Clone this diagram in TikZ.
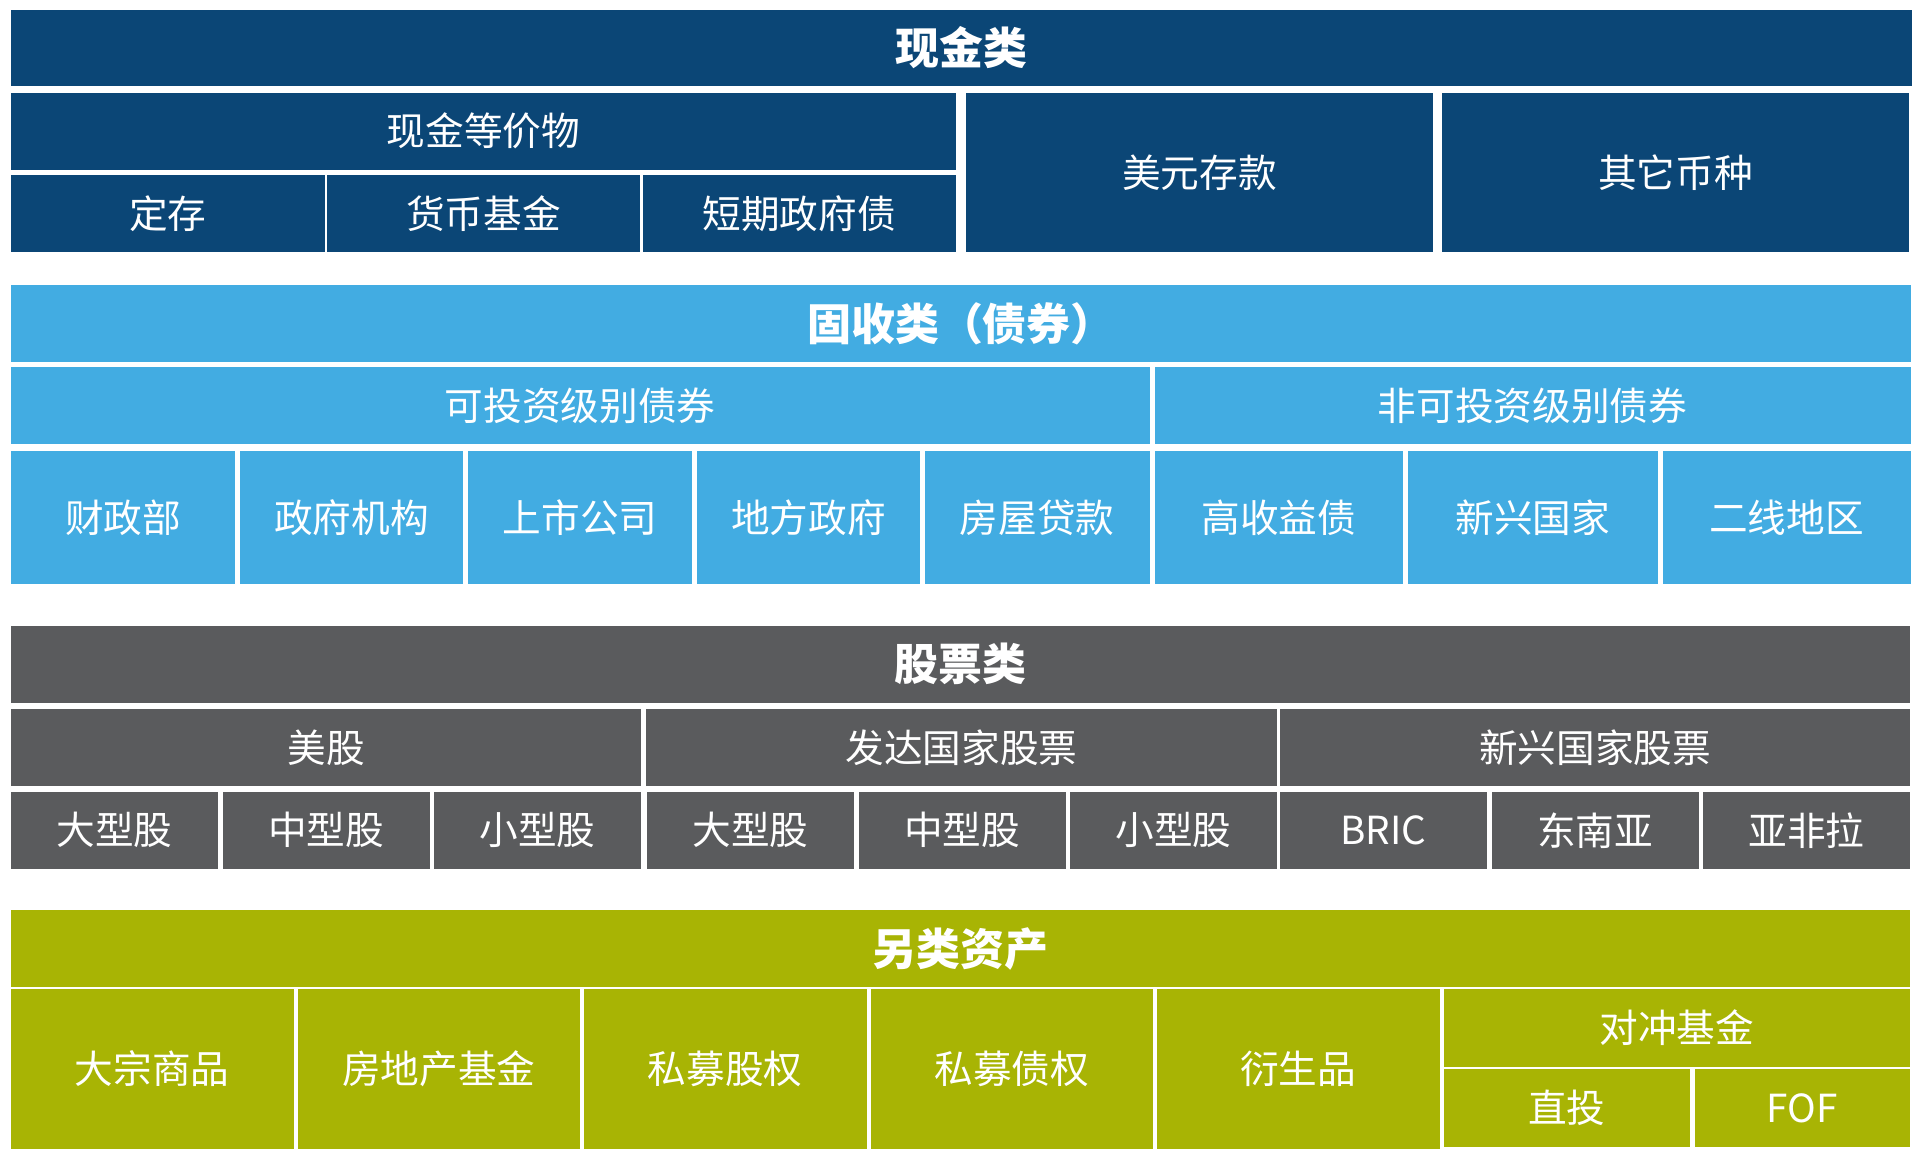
\documentclass[tikz,border=0pt]{standalone}
\usepackage{fontspec}
\setmainfont{Noto Sans CJK SC}
\usetikzlibrary{positioning}
\definecolor{cashblue}{HTML}{0B4676}
\definecolor{bondblue}{HTML}{42ACE2}
\definecolor{stockgrey}{HTML}{5A5B5D}
\definecolor{altolive}{HTML}{A8B404}

\begin{document}
\begin{tikzpicture}[node distance=0.045cm]
	% Define style
	\tikzset{
		cell/.style={rectangle, inner sep=0pt, outer sep=0pt, text=white, text centered, minimum height=0.77cm, font=\fontsize{11}{13}\selectfont},
		corner/.style={cell, anchor=north west},
		head/.style={corner, font=\bfseries\fontsize{12.5}{15}\selectfont},
		cash/.style={fill=cashblue},
		bond/.style={fill=bondblue},
		stock/.style={fill=stockgrey},
		alt/.style={fill=altolive}
	}
	\useasboundingbox (0,0) rectangle (19.2,-11.6);
	
	% Cash
	\node (cash) [head, cash, minimum width=19.01cm, minimum height=0.765cm] at (0.11,-0.095) {现金类};
	\node (cashequiv) [corner, cash, minimum width=9.45cm, minimum height=0.765cm] at (0.11,-0.93) {现金等价物};
	\node (deposit) [corner, cash, minimum width=3.135cm] at (0.11,-1.75) {定存};
	\node (mmf) [cell, cash, minimum width=3.13cm, right=0.025cm of deposit] {货币基金};
	\node (tbill) [cell, cash, minimum width=3.13cm, right=0.025cm of mmf] {短期政府债};
	\node (usd) [corner, cash, minimum width=4.67cm, minimum height=1.59cm] at (9.66,-0.93) {美元存款};
	\node (otherccy) [cell, cash, minimum width=4.67cm, minimum height=1.59cm, right=0.09cm of usd] {其它币种};
	
	% Bonds
	\node (bond) [head, bond, minimum width=19cm] at (0.11,-2.85) {固收类（债券）};
	\node (invgrade) [corner, bond, minimum width=11.385cm] at (0.11,-3.67) {可投资级别债券};
	\node (noninv) [cell, bond, minimum width=7.56cm, right=0.05cm of invgrade] {非可投资级别债券};
	\node (treasury) [corner, bond, minimum width=2.24cm, minimum height=1.33cm] at (0.11,-4.51) {财政部};
	\node (agency) [cell, bond, minimum width=2.23cm, minimum height=1.33cm, right=0.05cm of treasury] {政府机构};
	\node (corporate) [cell, bond, minimum width=2.24cm, minimum height=1.33cm, right=0.05cm of agency] {上市公司};
	\node (municipal) [cell, bond, minimum width=2.23cm, minimum height=1.33cm, right=0.05cm of corporate] {地方政府};
	\node (mortgage) [cell, bond, minimum width=2.245cm, minimum height=1.33cm, right=0.05cm of municipal] {房屋贷款};
	\node (highyield) [cell, bond, minimum width=2.485cm, minimum height=1.33cm, right=0.05cm of mortgage] {高收益债};
	\node (emerging) [cell, bond, minimum width=2.495cm, minimum height=1.33cm, right=0.05cm of highyield] {新兴国家};
	\node (frontier) [cell, bond, minimum width=2.48cm, minimum height=1.33cm, right=0.05cm of emerging] {二线地区};
	
	% Stocks
	\node (equity) [head, stock, minimum width=18.99cm, minimum height=0.765cm] at (0.11,-6.26) {股票类};
	\node (us) [corner, stock, minimum width=6.3cm] at (0.11,-7.09) {美股};
	\node (developed) [cell, stock, minimum width=6.31cm, right=0.05cm of us] {发达国家股票};
	\node (emergingeq) [cell, stock, minimum width=6.3cm, right=0.03cm of developed] {新兴国家股票};
	\node (uslarge) [corner, stock, minimum width=2.07cm, minimum height=0.765cm] at (0.11,-7.92) {大型股};
	\node (usmid) [cell, stock, minimum width=2.07cm, minimum height=0.765cm, right=of uslarge] {中型股};
	\node (ussmall) [cell, stock, minimum width=2.07cm, minimum height=0.765cm, right=of usmid] {小型股};
	\node (dmlarge) [cell, stock, minimum width=2.07cm, minimum height=0.765cm, right=0.06cm of ussmall] {大型股};
	\node (dmmid) [cell, stock, minimum width=2.07cm, minimum height=0.765cm, right=of dmlarge] {中型股};
	\node (dmsmall) [cell, stock, minimum width=2.07cm, minimum height=0.765cm, right=of dmmid] {小型股};
	\node (bric) [cell, stock, minimum width=2.07cm, minimum height=0.765cm, right=0.03cm of dmsmall] {BRIC};
	\node (asean) [cell, stock, minimum width=2.07cm, minimum height=0.765cm, right=of bric] {东南亚};
	\node (afla) [cell, stock, minimum width=2.07cm, minimum height=0.765cm, right=of asean] {亚非拉};
	
	% Alternatives
	\node (alt) [head, alt, minimum width=18.99cm] at (0.11,-9.1) {另类资产};
	\node (commodity) [corner, alt, minimum width=2.825cm, minimum height=1.6cm] at (0.11,-9.89) {大宗商品};
	\node (reit) [cell, alt, minimum width=2.825cm, minimum height=1.6cm, right=0.04cm of commodity] {房地产基金};
	\node (pe) [cell, alt, minimum width=2.825cm, minimum height=1.6cm, right=0.04cm of reit] {私募股权};
	\node (pd) [cell, alt, minimum width=2.825cm, minimum height=1.6cm, right=0.04cm of pe] {私募债权};
	\node (derivative) [cell, alt, minimum width=2.825cm, minimum height=1.6cm, right=0.04cm of pd] {衍生品};
	\node (hedge) [corner, alt, minimum width=4.665cm, minimum height=0.78cm] at (14.435,-9.89) {对冲基金};
	\node (direct) [corner, alt, minimum width=2.465cm, minimum height=0.78cm] at (14.435,-10.69) {直投};
	\node (fof) [cell, alt, minimum width=2.155cm, minimum height=0.78cm, right=of direct] {FOF};
\end{tikzpicture}
\end{document}
